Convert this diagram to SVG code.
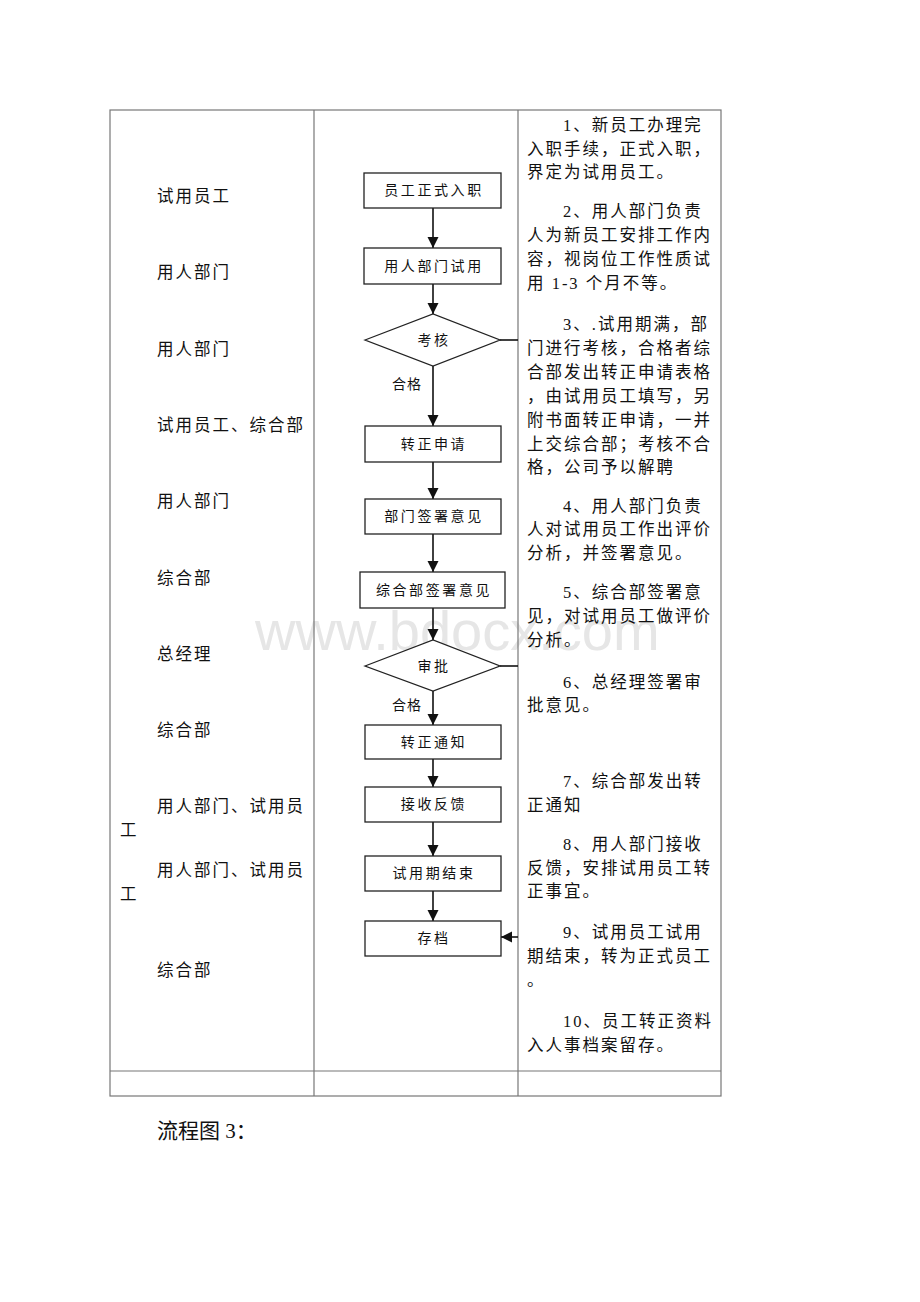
<svg xmlns="http://www.w3.org/2000/svg" width="920" height="1302" viewBox="0 0 920 1302">
<style>
.t{font-family:"Liberation Serif","Noto Sans CJK SC",serif;font-size:16.5px;letter-spacing:2px;fill:#111}
.b{font-family:"Liberation Serif","Noto Sans CJK SC",serif;font-size:14px;letter-spacing:2.6px;fill:#111;text-anchor:middle}
.g{font-family:"Liberation Serif","Noto Sans CJK SC",serif;font-size:14px;letter-spacing:1px;fill:#111}
.box{fill:#fff;stroke:#222;stroke-width:1.3}
.tbl{fill:none;stroke:#777;stroke-width:1.2}
.c{stroke:#111;stroke-width:1.6;fill:none}
</style>
<defs>
<marker id="ah" markerUnits="userSpaceOnUse" markerWidth="12" markerHeight="12" refX="11" refY="5.5" orient="auto">
<path d="M0,0 L11,5.5 L0,11 Z" fill="#111"/>
</marker>
</defs>
<rect width="920" height="1302" fill="#fff"/>
<text x="255" y="650" font-family="Liberation Sans,Arial,sans-serif" font-size="56" fill="#e6e6e6">www.bdocx.com</text>
<g id="table">
<rect class="tbl" x="110" y="110" width="611" height="986"/>
<line class="tbl" x1="314" y1="110" x2="314" y2="1096"/>
<line class="tbl" x1="518" y1="110" x2="518" y2="1096"/>
<line class="tbl" x1="110" y1="1071" x2="721" y2="1071" stroke="#555"/>
</g>
<g id="roles">
<text class="t" x="157" y="202">试用员工</text>
<text class="t" x="157" y="278">用人部门</text>
<text class="t" x="157" y="355">用人部门</text>
<text class="t" x="157" y="431">试用员工、综合部</text>
<text class="t" x="157" y="507">用人部门</text>
<text class="t" x="157" y="584">综合部</text>
<text class="t" x="157" y="660">总经理</text>
<text class="t" x="157" y="736">综合部</text>
<text class="t" x="157" y="812">用人部门、试用员</text>
<text class="t" x="120" y="836">工</text>
<text class="t" x="157" y="876">用人部门、试用员</text>
<text class="t" x="120" y="900">工</text>
<text class="t" x="157" y="976">综合部</text>
</g>
<g id="connectors">
<line class="c" x1="433" y1="208" x2="433" y2="248" marker-end="url(#ah)"/>
<line class="c" x1="433" y1="284" x2="433" y2="314" marker-end="url(#ah)"/>
<line class="c" x1="433" y1="366" x2="433" y2="426" marker-end="url(#ah)"/>
<line class="c" x1="433" y1="462" x2="433" y2="499" marker-end="url(#ah)"/>
<line class="c" x1="433" y1="534" x2="433" y2="572" marker-end="url(#ah)"/>
<line class="c" x1="433" y1="608" x2="433" y2="640" marker-end="url(#ah)"/>
<line class="c" x1="433" y1="691" x2="433" y2="725" marker-end="url(#ah)"/>
<line class="c" x1="433" y1="759" x2="433" y2="787" marker-end="url(#ah)"/>
<line class="c" x1="433" y1="822" x2="433" y2="856" marker-end="url(#ah)"/>
<line class="c" x1="433" y1="891" x2="433" y2="921" marker-end="url(#ah)"/>
<line class="c" x1="500" y1="340" x2="518" y2="340"/>
<line class="c" x1="500" y1="666" x2="518" y2="666"/>
<line class="c" x1="518" y1="937" x2="501" y2="937" marker-end="url(#ah)"/>
<text class="g" x="392" y="389">合格</text>
<text class="g" x="392" y="710">合格</text>
</g>
<g id="n1"><rect class="box" x="364" y="173" width="137" height="35"/><text class="b" x="434" y="195">员工正式入职</text></g>
<g id="n2"><rect class="box" x="364" y="248" width="137" height="36"/><text class="b" x="434" y="271">用人部门试用</text></g>
<g id="n3"><polygon class="box" points="365,340 433,314 500,340 433,366"/><text class="b" x="434" y="345">考核</text></g>
<g id="n4"><rect class="box" x="365" y="426" width="136" height="36"/><text class="b" x="434" y="449">转正申请</text></g>
<g id="n5"><rect class="box" x="365" y="499" width="136" height="35"/><text class="b" x="434" y="521">部门签署意见</text></g>
<g id="n6"><rect class="box" x="360" y="572" width="145" height="36"/><text class="b" x="434" y="595">综合部签署意见</text></g>
<g id="n7"><polygon class="box" points="365,666 433,640 500,666 433,691"/><text class="b" x="434" y="671">审批</text></g>
<g id="n8"><rect class="box" x="365" y="725" width="136" height="34"/><text class="b" x="434" y="747">转正通知</text></g>
<g id="n9"><rect class="box" x="365" y="787" width="136" height="35"/><text class="b" x="434" y="809">接收反馈</text></g>
<g id="n10"><rect class="box" x="365" y="856" width="136" height="35"/><text class="b" x="434" y="878">试用期结束</text></g>
<g id="n11"><rect class="box" x="365" y="921" width="136" height="35"/><text class="b" x="434" y="943">存档</text></g>
<g id="notes">
<text class="t" x="563" y="131">1、新员工办理完</text>
<text class="t" x="527" y="155">入职手续，正式入职，</text>
<text class="t" x="527" y="178">界定为试用员工。</text>
<text class="t" x="563" y="217">2、用人部门负责</text>
<text class="t" x="527" y="241">人为新员工安排工作内</text>
<text class="t" x="527" y="265">容，视岗位工作性质试</text>
<text class="t" x="527" y="289">用 1-3 个月不等。</text>
<text class="t" x="563" y="330">3、.试用期满，部</text>
<text class="t" x="527" y="354">门进行考核，合格者综</text>
<text class="t" x="527" y="378">合部发出转正申请表格</text>
<text class="t" x="527" y="402">，由试用员工填写，另</text>
<text class="t" x="527" y="426">附书面转正申请，一并</text>
<text class="t" x="527" y="450">上交综合部；考核不合</text>
<text class="t" x="527" y="473">格，公司予以解聘</text>
<text class="t" x="563" y="512">4、用人部门负责</text>
<text class="t" x="527" y="535">人对试用员工作出评价</text>
<text class="t" x="527" y="559">分析，并签署意见。</text>
<text class="t" x="563" y="598">5、综合部签署意</text>
<text class="t" x="527" y="622">见，对试用员工做评价</text>
<text class="t" x="527" y="646">分析。</text>
<text class="t" x="563" y="688">6、总经理签署审</text>
<text class="t" x="527" y="711">批意见。</text>
<text class="t" x="563" y="787">7、综合部发出转</text>
<text class="t" x="527" y="811">正通知</text>
<text class="t" x="563" y="850">8、用人部门接收</text>
<text class="t" x="527" y="874">反馈，安排试用员工转</text>
<text class="t" x="527" y="897">正事宜。</text>
<text class="t" x="563" y="938">9、试用员工试用</text>
<text class="t" x="527" y="962">期结束，转为正式员工</text>
<text class="t" x="527" y="986">。</text>
<text class="t" x="563" y="1027">10、员工转正资料</text>
<text class="t" x="527" y="1051">入人事档案留存。</text>
</g>
<text x="157" y="1138" font-family="Liberation Serif,Noto Sans CJK SC,serif" font-size="21" fill="#111">流程图 3：</text>
</svg>
